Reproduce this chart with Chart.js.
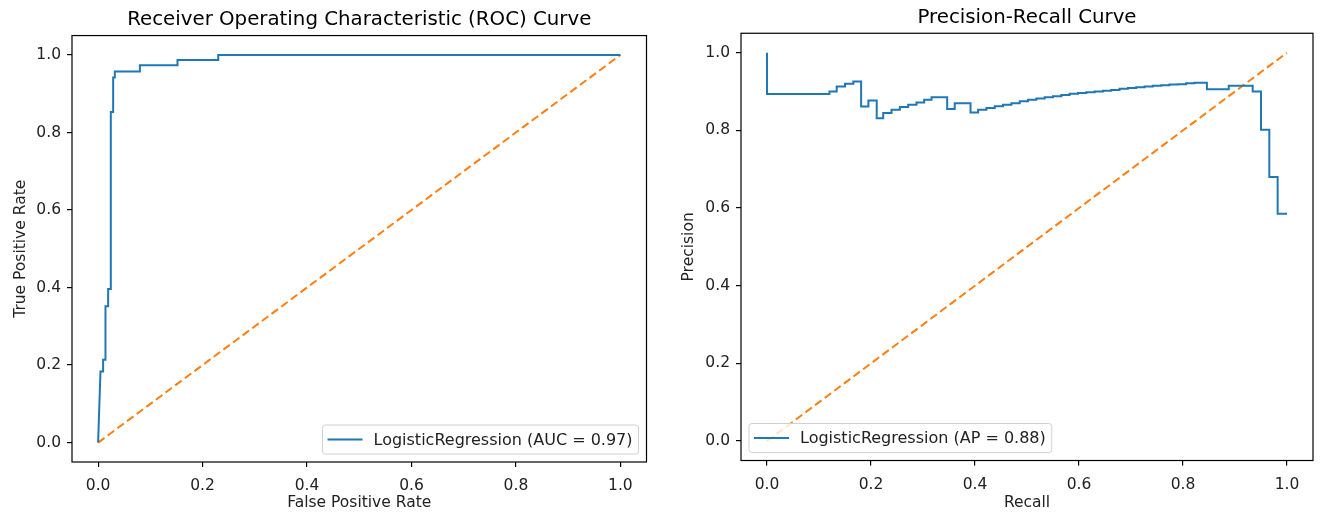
<!DOCTYPE html>
<html>
<head>
<meta charset="utf-8">
<script src="https://cdn.jsdelivr.net/npm/chart.js@4.4.1/dist/chart.umd.min.js"></script>
<style>
html, body { margin: 0; padding: 0; background: #fff; overflow: hidden; }
#wrap { position: relative; width: 1322px; height: 516px; }
canvas { position: absolute; top: 0; }
#rocChart { left: 0; }
#prChart { left: 661px; }
</style>
</head>
<body>
<div id="wrap">
  <canvas id="rocChart" width="661" height="516"></canvas>
  <canvas id="prChart" width="661" height="516"></canvas>
</div>
<script>
// ROC curve points
const rocFpr = [0, 0.0045, 0.0096, 0.0096, 0.0141, 0.0141, 0.0192, 0.0192, 0.0243, 0.0243,
                0.0288, 0.0288, 0.032, 0.032, 0.080, 0.080, 0.152, 0.152, 0.230, 0.230, 1.0];
const rocTpr = [0, 0.1835, 0.1835, 0.2137, 0.2137, 0.3515, 0.3515, 0.3963, 0.3963, 0.8528,
                0.8528, 0.9415, 0.9415, 0.957, 0.957, 0.9734, 0.9734, 0.9871, 0.9871, 1.0, 1.0];

// precision-recall steps (precision holds from the previous recall up to this one)
const prRecall = [0, 0.120, 0.134, 0.150, 0.166, 0.181, 0.195, 0.211, 0.2235, 0.2395,
                  0.2555, 0.2715, 0.2875, 0.3023, 0.3164, 0.3465, 0.361, 0.3914, 0.406, 0.422,
                  0.438, 0.454, 0.470, 0.486, 0.502, 0.518, 0.534, 0.550, 0.566, 0.582,
                  0.598, 0.614, 0.630, 0.646, 0.662, 0.678, 0.694, 0.710, 0.726, 0.742,
                  0.758, 0.774, 0.790, 0.806, 0.822, 0.846, 0.888, 0.934, 0.950, 0.966,
                  0.982, 1.0];
const prPrecision = [1.0, 0.8935, 0.900, 0.913, 0.920, 0.926, 0.8616, 0.877, 0.831, 0.8445,
                     0.853, 0.860, 0.866, 0.872, 0.879, 0.885, 0.855, 0.870, 0.846, 0.853,
                     0.8575, 0.862, 0.866, 0.870, 0.875, 0.879, 0.882, 0.885, 0.888, 0.891,
                     0.894, 0.896, 0.898, 0.900, 0.902, 0.904, 0.907, 0.909, 0.911, 0.913,
                     0.915, 0.916, 0.918, 0.919, 0.921, 0.9225, 0.906, 0.915, 0.900, 0.8015,
                     0.6796, 0.585];

const chanceX = [0, 1];
const chanceY = [0, 1];
const tickValues = [0, 0.2, 0.4, 0.6, 0.8, 1.0];

const rocLabel = 'LogisticRegression (AUC = 0.97)';
const prLabel = 'LogisticRegression (AP = 0.88)';

const BLUE = '#1f77b4';
const ORANGE = '#ff7f0e';
const FONT = '"DejaVu Sans", "Liberation Sans", sans-serif';

// matplotlib style box around the axes + legend inside it
const axesFrame = {
    id: 'axesFrame',
    afterDraw(chart, args, opts) {
        const ctx = chart.ctx;
        const a = chart.chartArea;
        ctx.save();
        ctx.strokeStyle = '#000';
        ctx.lineWidth = 1.2;
        ctx.strokeRect(a.left, a.top, a.right - a.left, a.bottom - a.top);

        ctx.font = '16px ' + FONT;
        const tw = ctx.measureText(opts.label).width;
        const w = 51 + tw + 6, h = 29;
        const x = opts.corner === 'right' ? a.right - 8 - w : a.left + 8;
        const y = a.bottom - 8 - h;
        ctx.beginPath();
        ctx.roundRect(x, y, w, h, 3);
        ctx.fillStyle = 'rgba(255,255,255,0.8)';
        ctx.fill();
        ctx.strokeStyle = '#d0d0d0';
        ctx.lineWidth = 1;
        ctx.stroke();

        ctx.beginPath();
        ctx.strokeStyle = BLUE;
        ctx.lineWidth = 2;
        ctx.moveTo(x + 5, y + h / 2);
        ctx.lineTo(x + 40, y + h / 2);
        ctx.stroke();

        ctx.fillStyle = '#222';
        ctx.textBaseline = 'middle';
        ctx.textAlign = 'left';
        ctx.fillText(opts.label, x + 51, y + h / 2 + 1);
        ctx.restore();
    }
};

function axis(titleText, titlePad, fitSize, vertical) {
    return {
        type: 'linear',
        min: -0.05,
        max: 1.05,
        afterBuildTicks: s => { s.ticks = tickValues.map(v => ({ value: v })); },
        afterFit: s => { if (vertical) s.width = fitSize; else s.height = fitSize; },
        ticks: {
            autoSkip: false,
            maxRotation: 0,
            padding: vertical ? 6 : 10,
            color: '#222',
            font: { family: FONT, size: 15.5 },
            callback: v => v.toFixed(1)
        },
        grid: { display: true, drawOnChartArea: false, drawTicks: true, tickLength: 5, color: '#000', lineWidth: 1.2 },
        border: { display: false },
        title: {
            display: true,
            text: titleText,
            color: '#222',
            font: { family: FONT, size: 15.5, lineHeight: 1.2 },
            padding: titlePad
        }
    };
}

function makeChart(id, cfg) {
    return new Chart(document.getElementById(id).getContext('2d'), {
        type: 'line',
        data: {
            datasets: [{
                data: cfg.xs.map((v, i) => ({ x: v, y: cfg.ys[i] })),
                borderColor: BLUE,
                borderWidth: 2,
                pointRadius: 0,
                stepped: cfg.stepped,
                tension: 0,
                fill: false
            }, {
                data: chanceX.map((v, i) => ({ x: v, y: chanceY[i] })),
                borderColor: ORANGE,
                borderWidth: 2,
                borderDash: [8, 4],
                pointRadius: 0,
                fill: false
            }]
        },
        options: {
            responsive: false,
            animation: false,
            devicePixelRatio: 1,
            layout: { padding: { left: 0, right: cfg.padRight, top: 0, bottom: 0 } },
            scales: {
                x: axis(cfg.xTitle, { top: 0, bottom: 3.7 }, cfg.xHeight, false),
                y: axis(cfg.yTitle, { top: cfg.yTitlePad, bottom: 0 }, cfg.yWidth, true)
            },
            plugins: {
                legend: { display: false },
                tooltip: { enabled: false },
                title: {
                    display: true,
                    text: cfg.title,
                    fullSize: false,
                    color: '#000',
                    font: { family: FONT, size: 19.8, weight: 'normal', lineHeight: 1.2 },
                    padding: cfg.titlePad
                },
                axesFrame: { label: cfg.label, corner: cfg.corner }
            }
        },
        plugins: [axesFrame]
    });
}

makeChart('rocChart', {
    xs: rocFpr, ys: rocTpr, stepped: false,
    title: 'Receiver Operating Characteristic (ROC) Curve',
    xTitle: 'False Positive Rate', yTitle: 'True Positive Rate',
    label: rocLabel, corner: 'right',
    padRight: 14.5, xHeight: 54, yWidth: 72, yTitlePad: 11.4,
    titlePad: { top: 8.1, bottom: 3.7 }
});

makeChart('prChart', {
    xs: prRecall, ys: prPrecision, stepped: 'after',
    title: 'Precision-Recall Curve',
    xTitle: 'Recall', yTitle: 'Precision',
    label: prLabel, corner: 'left',
    padRight: 9, xHeight: 55.5, yWidth: 80, yTitlePad: 19,
    titlePad: { top: 6.1, bottom: 3.4 }
});
</script>
</body>
</html>
